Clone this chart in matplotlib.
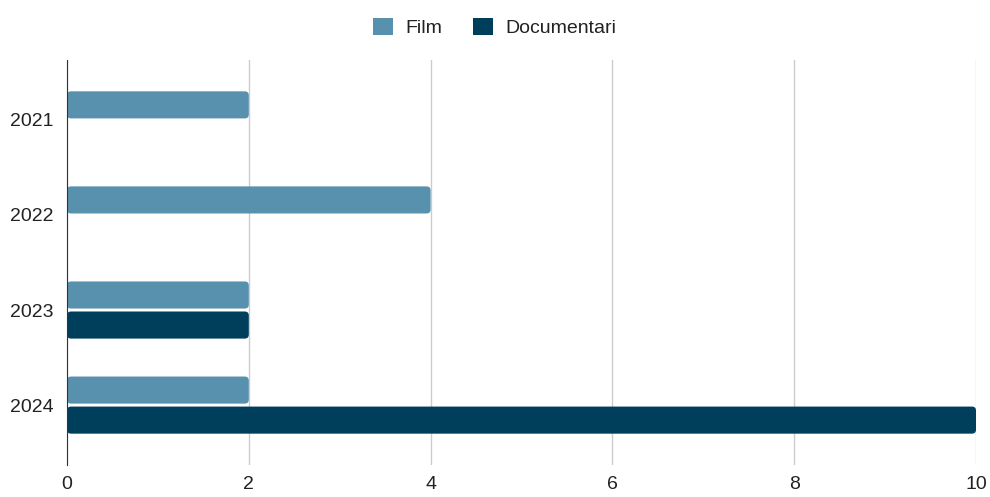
import matplotlib
matplotlib.use("Agg")
import matplotlib.pyplot as plt
import numpy as np
from matplotlib.patches import FancyBboxPatch, Patch

plt.rcParams['font.family'] = ['Liberation Sans', 'DejaVu Sans']

years = ['2021', '2022', '2023', '2024']
film = [2, 4, 2, 2]
documentari = [0, 0, 2, 10]
series_names = ['Film', 'Documentari']
colors = ['#5891ad', '#003f5c']

fig = plt.figure(figsize=(9.9, 4.97), dpi=100)
ax = fig.add_axes([0.0677, 0.0644, 0.9182, 0.8149])

y = np.arange(len(years))
bar_h = 0.285
offset = 0.158

for vals, off, col in [(film, -offset, colors[0]), (documentari, offset, colors[1])]:
    bars = ax.barh(y + off, vals, height=bar_h, color=col, zorder=3)
    # swap plain rectangles for slightly rounded ones
    for b in bars:
        if b.get_width() > 0:
            r = FancyBboxPatch((b.get_x(), b.get_y()), b.get_width(), b.get_height(),
                               boxstyle="round,pad=0,rounding_size=0.045",
                               mutation_aspect=0.96,
                               facecolor=col, edgecolor='none', zorder=3)
            ax.add_patch(r)
        b.remove()

ax.set_xlim(0, 10)
ax.set_ylim(3.63, -0.63)
ax.set_yticks(y)
ax.set_yticklabels(years)
ax.set_xticks([0, 2, 4, 6, 8, 10])

ax.grid(axis='x', color='#cccccc', linewidth=1, zorder=0)
for s in ['top', 'right', 'bottom']:
    ax.spines[s].set_visible(False)
ax.spines['left'].set_color('#333333')
ax.spines['left'].set_zorder(4)
ax.tick_params(axis='both', length=0, labelsize=14, colors='#222222')
ax.tick_params(axis='x', pad=8)
ax.tick_params(axis='y', pad=10)

handles = [Patch(facecolor=c, edgecolor='none') for c in colors]
fig.legend(handles, series_names, loc='upper center', bbox_to_anchor=(0.5, 1.0),
           ncol=2, frameon=False, fontsize=14, handlelength=1.0, handleheight=1.0,
           columnspacing=1.6, handletextpad=0.65, labelcolor='#222222')

fig.savefig('out.png', dpi=100)
